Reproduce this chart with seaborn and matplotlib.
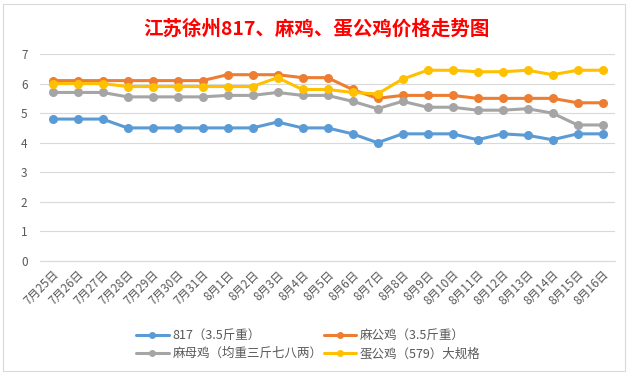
import numpy as np
import pandas as pd
import matplotlib
matplotlib.use("Agg")
import matplotlib.pyplot as plt
import seaborn as sns
from matplotlib.patches import Rectangle
from matplotlib.lines import Line2D

dates = ["7月25日", "7月26日", "7月27日", "7月28日", "7月29日", "7月30日", "7月31日",
         "8月1日", "8月2日", "8月3日", "8月4日", "8月5日", "8月6日", "8月7日", "8月8日",
         "8月9日", "8月10日", "8月11日", "8月12日", "8月13日", "8月14日", "8月15日", "8月16日"]

s817 = [4.8, 4.8, 4.8, 4.5, 4.5, 4.5, 4.5, 4.5, 4.5, 4.7, 4.5, 4.5,
        4.3, 4.0, 4.3, 4.3, 4.3, 4.1, 4.3, 4.25, 4.1, 4.3, 4.3]
magong = [6.1, 6.1, 6.1, 6.1, 6.1, 6.1, 6.1, 6.3, 6.3, 6.3, 6.2, 6.2,
          5.8, 5.5, 5.6, 5.6, 5.6, 5.5, 5.5, 5.5, 5.5, 5.35, 5.35]
mamu = [5.7, 5.7, 5.7, 5.55, 5.55, 5.55, 5.55, 5.6, 5.6, 5.7, 5.6, 5.6,
        5.4, 5.15, 5.4, 5.2, 5.2, 5.1, 5.1, 5.15, 5.0, 4.6, 4.6]
dangong = [6.0, 6.0, 6.0, 5.9, 5.9, 5.9, 5.9, 5.9, 5.9, 6.2, 5.8, 5.8,
           5.7, 5.65, 6.15, 6.45, 6.45, 6.4, 6.4, 6.45, 6.3, 6.45, 6.45]

series_names = ["817（3.5斤重）", "麻公鸡（3.5斤重）", "麻母鸡（均重三斤七八两）", "蛋公鸡（579）大规格"]
colors = ["#5B9BD5", "#ED7D31", "#A5A5A5", "#FFC000"]
title = "江苏徐州817、麻鸡、蛋公鸡价格走势图"
yticks = [0, 1, 2, 3, 4, 5, 6, 7]

sns.set_theme(style="white")
plt.rcParams['font.family'] = ['Noto Sans CJK SC', 'DejaVu Sans']

frames = []
for name, vals in zip(series_names, [s817, magong, mamu, dangong]):
    frames.append(pd.DataFrame({"date": dates, "price": vals, "series": name}))
df = pd.concat(frames, ignore_index=True)

fig = plt.figure(figsize=(6.32, 3.76), dpi=100)
fig.patch.set_facecolor("white")
# chart border
fig.add_artist(Rectangle((3 / 632, 1 - 371 / 376), 622 / 632, 367 / 376,
                         transform=fig.transFigure, fill=False,
                         edgecolor="#D9D9D9", linewidth=0.8))

ax = fig.add_axes([40 / 632, 1 - 261 / 376, 575 / 632, 207 / 376])
sns.lineplot(data=df, x="date", y="price", hue="series", palette=colors,
             sort=False, marker="o", markersize=6.5, markeredgewidth=0,
             linewidth=2.2, ax=ax, legend=False)

ax.set_xlim(-0.5, len(dates) - 0.5)
ax.set_ylim(0, 7)
ax.set_yticks(yticks)
ax.set_yticklabels([str(v) for v in yticks], color="#595959", fontsize=8.5)
ax.yaxis.grid(True, color="#D9D9D9", linewidth=0.8)
ax.set_axisbelow(True)
for side in ["left", "right", "top"]:
    ax.spines[side].set_visible(False)
ax.spines["bottom"].set_color("#D9D9D9")
ax.spines["bottom"].set_linewidth(0.8)
ax.tick_params(axis="y", length=0, pad=9)

ax.set_xticks(range(len(dates)))
ax.set_xticklabels(dates, rotation=45, ha="right", rotation_mode="anchor",
                   color="#595959", fontsize=8.5)
ax.tick_params(axis="x", which="major", length=0, pad=5)
ax.set_xticks(np.arange(-0.5, len(dates)), minor=True)
ax.tick_params(axis="x", which="minor", length=4, color="#D9D9D9", width=0.8)
ax.set_xlabel("")
ax.set_ylabel("")

fig.text(316 / 632, 1 - 29 / 376, title, ha="center", va="center",
         color="#FF0000", fontsize=14, fontweight="bold")

handles = [Line2D([0], [0], color=c, linewidth=2.2, marker="o", markersize=5,
                  markeredgewidth=0) for c in colors]
order = [0, 2, 1, 3]  # column-wise fill to give row-wise order
fig.legend([handles[i] for i in order], [series_names[i] for i in order],
           loc="upper left", ncol=2,
           bbox_to_anchor=(136 / 632, 1 - 329 / 376), frameon=False,
           fontsize=9, labelcolor="#595959", handlelength=2.6,
           columnspacing=0.1, handletextpad=0.3, labelspacing=0.4,
           borderaxespad=0, borderpad=0)

fig.savefig("out.png", dpi=100)
